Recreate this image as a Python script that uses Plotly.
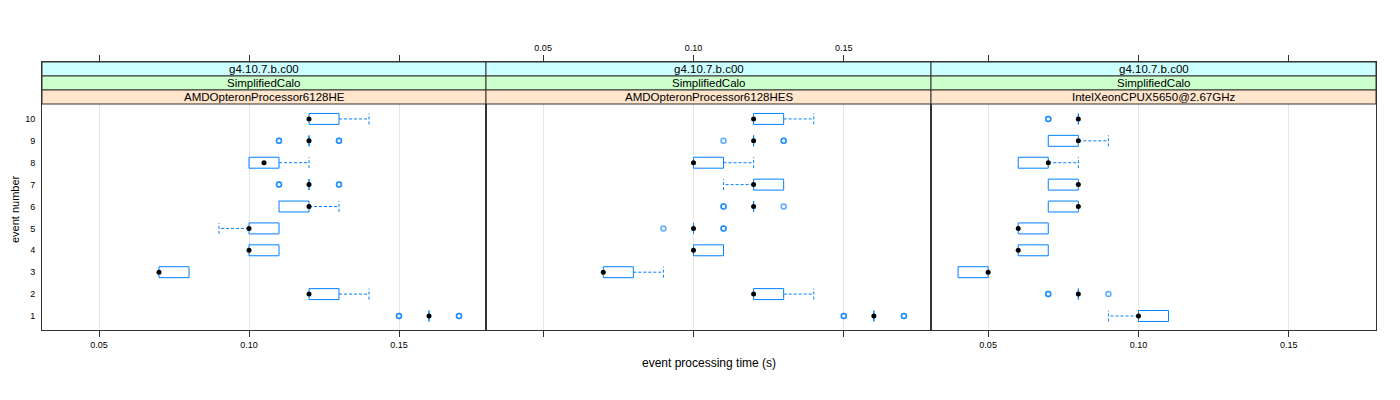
import plotly.graph_objects as go

W, H = 1400, 400

# ---------------- data ----------------
events = [1, 2, 3, 4, 5, 6, 7, 8, 9, 10]
panel_names = ["AMDOpteronProcessor6128HE", "AMDOpteronProcessor6128HES", "IntelXeonCPUX5650@2.67GHz"]
strip_top = "g4.10.7.b.c00"
strip_mid = "SimplifiedCalo"

# panel 1: AMDOpteronProcessor6128HE
he_med = [0.16, 0.12, 0.07, 0.10, 0.10, 0.12, 0.12, 0.105, 0.12, 0.12]
he_q1 = [0.16, 0.12, 0.07, 0.10, 0.10, 0.11, 0.12, 0.10, 0.12, 0.12]
he_q3 = [0.16, 0.13, 0.08, 0.11, 0.11, 0.12, 0.12, 0.11, 0.12, 0.13]
he_lo = [0.16, 0.12, 0.07, 0.10, 0.09, 0.11, 0.12, 0.10, 0.12, 0.12]
he_hi = [0.16, 0.14, 0.08, 0.11, 0.11, 0.13, 0.12, 0.12, 0.12, 0.14]
he_out_ev = [1, 1, 1, 1, 7, 7, 7, 7, 9, 9, 9, 9]
he_out_val = [0.15, 0.15, 0.17, 0.17, 0.11, 0.11, 0.13, 0.13, 0.11, 0.11, 0.13, 0.13]

# panel 2: AMDOpteronProcessor6128HES
hes_med = [0.16, 0.12, 0.07, 0.10, 0.10, 0.12, 0.12, 0.10, 0.12, 0.12]
hes_q1 = [0.16, 0.12, 0.07, 0.10, 0.10, 0.12, 0.12, 0.10, 0.12, 0.12]
hes_q3 = [0.16, 0.13, 0.08, 0.11, 0.10, 0.12, 0.13, 0.11, 0.12, 0.13]
hes_lo = [0.16, 0.12, 0.07, 0.10, 0.10, 0.12, 0.11, 0.10, 0.12, 0.12]
hes_hi = [0.16, 0.14, 0.09, 0.11, 0.10, 0.12, 0.13, 0.12, 0.12, 0.14]
hes_out_ev = [1, 1, 1, 1, 5, 5, 5, 6, 6, 6, 9, 9, 9]
hes_out_val = [0.15, 0.15, 0.17, 0.17, 0.09, 0.11, 0.11, 0.11, 0.11, 0.13, 0.11, 0.13, 0.13]

# panel 3: IntelXeonCPUX5650@2.67GHz
xe_med = [0.10, 0.08, 0.05, 0.06, 0.06, 0.08, 0.08, 0.07, 0.08, 0.08]
xe_q1 = [0.10, 0.08, 0.04, 0.06, 0.06, 0.07, 0.07, 0.06, 0.07, 0.08]
xe_q3 = [0.11, 0.08, 0.05, 0.07, 0.07, 0.08, 0.08, 0.07, 0.08, 0.08]
xe_lo = [0.09, 0.08, 0.04, 0.06, 0.06, 0.07, 0.07, 0.06, 0.07, 0.08]
xe_hi = [0.11, 0.08, 0.05, 0.07, 0.07, 0.08, 0.08, 0.08, 0.09, 0.08]
xe_out_ev = [2, 2, 2, 10, 10]
xe_out_val = [0.07, 0.07, 0.09, 0.07, 0.07]

x_tickvals = [0.05, 0.10, 0.15]
x_ticktext = ["0.05", "0.10", "0.15"]

panels = [
    (he_med, he_q1, he_q3, he_lo, he_hi, he_out_ev, he_out_val),
    (hes_med, hes_q1, hes_q3, hes_lo, hes_hi, hes_out_ev, hes_out_val),
    (xe_med, xe_q1, xe_q3, xe_lo, xe_hi, xe_out_ev, xe_out_val),
]

# ---------------- style / layout ----------------
BLUE = "#0080ff"
FRAME = "#333333"
FONT = "Liberation Sans"
HALF = 0.25  # half box height in y units

px_left = [34, 478, 923]
px_right = [478, 923, 1368]
plot_top, plot_bot = 54, 322   # includes strips
strip_edges = [54, 68, 82, 96]
strip_cols = ["#ccffff", "#ccffcc", "#ffe5cc"]

def fx(px):
    return px / W

def fy(py):
    return 1 - py / H

fig = go.Figure()

for i, (med, q1, q3, lo, hi, oev, oval) in enumerate(panels):
    xa = "x" if i == 0 else f"x{i+1}"
    ya = "y" if i == 0 else f"y{i+1}"
    # boxes
    bx, by = [], []
    for e, a, b in zip(events, q1, q3):
        bx += [a, b, b, a, a, None]
        by += [e - HALF, e - HALF, e + HALF, e + HALF, e - HALF, None]
    fig.add_trace(go.Scatter(x=bx, y=by, mode="lines", xaxis=xa, yaxis=ya,
                             line=dict(color=BLUE, width=1), hoverinfo="skip", showlegend=False))
    # whiskers (dashed) with caps
    wx, wy = [], []
    for e, a, b, l, h in zip(events, q1, q3, lo, hi):
        if l < a:
            wx += [a, l, None, l, l, None]
            wy += [e, e, None, e - HALF, e + HALF, None]
        if h > b:
            wx += [b, h, None, h, h, None]
            wy += [e, e, None, e - HALF, e + HALF, None]
    fig.add_trace(go.Scatter(x=wx, y=wy, mode="lines", xaxis=xa, yaxis=ya,
                             line=dict(color=BLUE, width=1, dash="3px,2px"),
                             hoverinfo="skip", showlegend=False))
    # outliers
    fig.add_trace(go.Scatter(x=oval, y=oev, mode="markers", xaxis=xa, yaxis=ya,
                             marker=dict(symbol="circle-open", size=5, color=BLUE,
                                         opacity=0.65, line=dict(width=1.5, color=BLUE)),
                             showlegend=False))
    # medians
    fig.add_trace(go.Scatter(x=med, y=events, mode="markers", xaxis=xa, yaxis=ya,
                             marker=dict(symbol="circle", size=5, color="black"),
                             showlegend=False))

    xkey = "xaxis" if i == 0 else f"xaxis{i+1}"
    ykey = "yaxis" if i == 0 else f"yaxis{i+1}"
    fig.update_layout(**{
        xkey: dict(domain=[fx(px_left[i]), fx(px_right[i])], range=[0.031, 0.179],
                   anchor=ya, side="top" if i == 1 else "bottom",
                   tickvals=x_tickvals, ticktext=x_ticktext, ticks="outside", ticklen=6,
                   tickcolor=FRAME, showline=True, linecolor=FRAME, linewidth=1,
                   mirror="ticks", showgrid=True, gridcolor="#e6e6e6", zeroline=False,
                   tickfont=dict(family=FONT, size=9, color="black"), fixedrange=True),
        ykey: dict(domain=[fy(plot_bot), fy(plot_top)], range=[0.36, 12.6],
                   anchor=xa, tickvals=events, ticktext=[str(e) for e in events],
                   ticks="outside" if i == 0 else "", ticklen=4,
                   tickcolor="rgba(0,0,0,0)",
                   showticklabels=(i == 0), showline=True, linecolor=FRAME, linewidth=1,
                   mirror=True, showgrid=False, zeroline=False,
                   tickfont=dict(family=FONT, size=9, color="black"), fixedrange=True),
    })

    # strips
    labels = [strip_top, strip_mid, panel_names[i]]
    for k in range(3):
        fig.add_shape(type="rect", xref="paper", yref="paper",
                      x0=fx(px_left[i]), x1=fx(px_right[i]),
                      y0=fy(strip_edges[k + 1]), y1=fy(strip_edges[k]),
                      fillcolor=strip_cols[k], line=dict(color=FRAME, width=1), layer="above")
        fig.add_annotation(xref="paper", yref="paper",
                           x=(fx(px_left[i]) + fx(px_right[i])) / 2,
                           y=(fy(strip_edges[k]) + fy(strip_edges[k + 1])) / 2,
                           text=labels[k], showarrow=False, xanchor="center", yanchor="middle",
                           font=dict(family=FONT, size=11.5, color="black"))

fig.add_annotation(xref="paper", yref="paper", x=0, y=fy(201),
                   text="event number", showarrow=False, textangle=-90,
                   xanchor="left", yanchor="middle", borderpad=0,
                   font=dict(family=FONT, size=11, color="black"))
fig.add_annotation(xref="paper", yref="paper", x=fx(701), y=fy(355),
                   text="event processing time (s)", showarrow=False,
                   xanchor="center", yanchor="middle",
                   font=dict(family=FONT, size=12, color="black"))

fig.update_layout(width=W, height=H, margin=dict(l=0, r=0, t=0, b=0),
                  paper_bgcolor="white", plot_bgcolor="white", showlegend=False)

fig.write_html("out.html")
